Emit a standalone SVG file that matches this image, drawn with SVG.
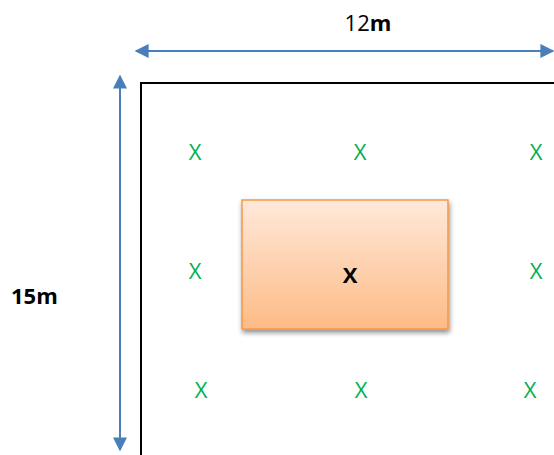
<svg xmlns="http://www.w3.org/2000/svg" width="554" height="455" viewBox="0 0 554 455">
<defs>
<style>
.g{font-family:"Open Sans","Liberation Sans",sans-serif;font-size:22px;fill:#00B050;text-anchor:middle}
.lbl{font-family:"Open Sans","Liberation Sans",sans-serif;font-size:22px;fill:#000}
.dim{stroke:#4A7EBB;stroke-width:2;fill:none}
</style>
<linearGradient id="og" x1="0" y1="0" x2="0" y2="1">
<stop offset="0" stop-color="#FFE9DA"/>
<stop offset="1" stop-color="#FDBB86"/>
</linearGradient>
<filter id="sh" x="-10%" y="-10%" width="130%" height="130%">
<feGaussianBlur in="SourceAlpha" stdDeviation="2.5"/>
<feOffset dx="1" dy="3"/>
<feComponentTransfer><feFuncA type="linear" slope="0.45"/></feComponentTransfer>
<feMerge><feMergeNode/><feMergeNode in="SourceGraphic"/></feMerge>
</filter>
<marker id="ah" viewBox="0 0 10 10" refX="9" refY="5" markerWidth="7" markerHeight="7" orient="auto-start-reverse" markerUnits="strokeWidth">
<path d="M0,0 L10,5 L0,10 z" fill="#4A7EBB"/>
</marker>
</defs>
<g id="connectors">
<line class="dim" x1="136" y1="51" x2="553" y2="51" marker-start="url(#ah)" marker-end="url(#ah)"/>
<line class="dim" x1="120" y1="76" x2="120" y2="450" marker-start="url(#ah)" marker-end="url(#ah)"/>
</g>
<g id="boundary">
<path d="M141,455 L141,83 L554,83" fill="none" stroke="#000" stroke-width="2"/>
</g>
<g id="building">
<rect x="242" y="200" width="206" height="129" fill="url(#og)" stroke="#F79646" stroke-width="1.5" filter="url(#sh)"/>
<text x="350" y="283" class="lbl" font-weight="bold" text-anchor="middle">X</text>
</g>
<g id="points">
<text class="g" x="195" y="160">X</text>
<text class="g" x="360" y="160">X</text>
<text class="g" x="536" y="160">X</text>
<text class="g" x="195" y="279">X</text>
<text class="g" x="536" y="279">X</text>
<text class="g" x="201" y="398">X</text>
<text class="g" x="361" y="398">X</text>
<text class="g" x="530" y="398">X</text>
</g>
<g id="labels">
<text class="lbl" x="368" y="31" text-anchor="middle">12<tspan font-weight="bold">m</tspan></text>
<text class="lbl" x="11" y="304" font-weight="bold">15m</text>
</g>
</svg>
